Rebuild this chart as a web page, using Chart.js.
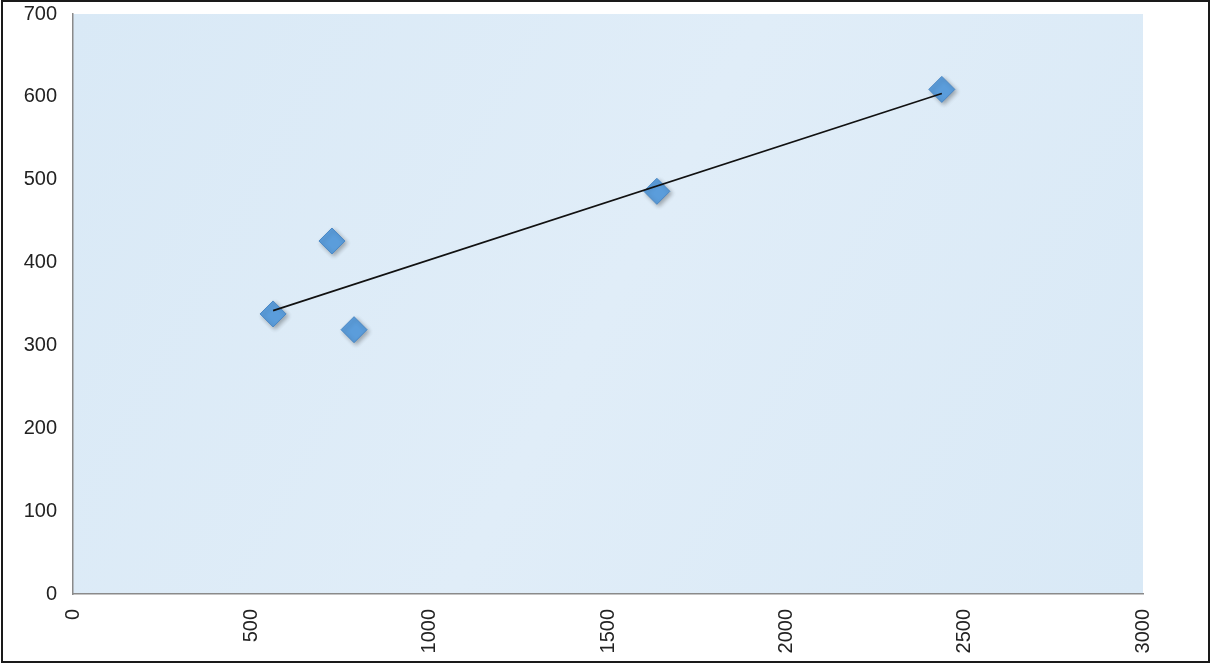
<!DOCTYPE html>
<html>
<head>
<meta charset="utf-8">
<script src="https://cdn.jsdelivr.net/npm/chart.js@4/dist/chart.umd.min.js"></script>
<style>
html,body{margin:0;padding:0;background:#fff;}
#wrap{width:1211px;height:663px;position:relative;}
</style>
</head>
<body>
<div id="wrap"><canvas id="c" width="1211" height="663"></canvas></div>
<script>
// Data
const xValues = [561, 726, 788, 1637, 2436];
const yValues = [338, 426, 319, 486, 609];
// Linear trendline end points
const trendX = [561, 2436];
const trendY = [342, 604];
const xTicks = [0, 500, 1000, 1500, 2000, 2500, 3000];
const yTicks = [0, 100, 200, 300, 400, 500, 600, 700];

const scatterData = xValues.map((x, i) => ({x: x, y: yValues[i]}));
const trendData = trendX.map((x, i) => ({x: x, y: trendY[i]}));

const bgPlugin = {
  id: 'bg',
  beforeDraw(chart) {
    const {ctx, chartArea: a} = chart;
    ctx.save();
    ctx.fillStyle = '#ffffff';
    ctx.fillRect(0, 0, chart.width, chart.height);
    const g = ctx.createLinearGradient(a.left, a.top, a.right, a.bottom);
    g.addColorStop(0, '#d9e9f6');
    g.addColorStop(0.5, '#e0edf8');
    g.addColorStop(1, '#d9e9f6');
    ctx.fillStyle = g;
    ctx.fillRect(a.left, a.top, a.right - a.left, a.bottom - a.top);
    ctx.restore();
  },
  afterDraw(chart) {
    const {ctx} = chart;
    ctx.save();
    ctx.strokeStyle = '#1a1a1a';
    ctx.lineWidth = 2;
    ctx.strokeRect(2, 1, chart.width - 4, chart.height - 2);
    ctx.restore();
  },
  beforeDatasetDraw(chart, args) {
    if (args.index === 0) {
      const ctx = chart.ctx;
      ctx.save();
      ctx.shadowColor = 'rgba(0,0,0,0.3)';
      ctx.shadowBlur = 4;
      ctx.shadowOffsetX = 2;
      ctx.shadowOffsetY = 2;
    }
  },
  afterDatasetDraw(chart, args) {
    if (args.index === 0) chart.ctx.restore();
  }
};

const font = {family: 'Arial, "Liberation Sans", sans-serif', size: 20};

new Chart(document.getElementById('c'), {
  type: 'scatter',
  data: {
    datasets: [
      {
        label: 'Series',
        data: scatterData,
        pointStyle: 'rectRot',
        pointRadius: 13,
        pointHoverRadius: 13,
        backgroundColor: '#5b9ddb',
        borderColor: '#4a88c6',
        borderWidth: 1,
        order: 1
      },
      {
        type: 'line',
        label: 'Trend',
        data: trendData,
        borderColor: '#111111',
        borderWidth: 1.6,
        pointRadius: 0,
        fill: false,
        order: 0
      }
    ]
  },
  options: {
    responsive: false,
    animation: false,
    events: [],
    layout: {padding: {left: 0, top: 12, right: 68, bottom: 0}},
    plugins: {legend: {display: false}, tooltip: {enabled: false}},
    scales: {
      x: {
        type: 'linear',
        min: 0, max: 3000,
        afterBuildTicks(s) { s.ticks = xTicks.map(v => ({value: v})); },
        afterFit(s) { s.height = 69; s.paddingLeft = 0; s.paddingRight = 0; },
        grid: {display: false, drawOnChartArea: false, drawTicks: true, tickLength: 5, color: '#8a8a8a'},
        border: {display: true, color: '#8a8a8a', width: 1.5},
        ticks: {font: font, color: '#222', minRotation: 90, maxRotation: 90, padding: 10,
                callback: v => String(v)}
      },
      y: {
        type: 'linear',
        min: 0, max: 700,
        afterBuildTicks(s) { s.ticks = yTicks.map(v => ({value: v})); },
        afterFit(s) { s.width = 73; s.paddingTop = 0; s.paddingBottom = 0; },
        grid: {display: false, drawOnChartArea: false, drawTicks: true, tickLength: 6, color: '#8a8a8a'},
        border: {display: true, color: '#8a8a8a', width: 1.5},
        ticks: {font: font, color: '#222', padding: 10, callback: v => String(v)}
      }
    }
  },
  plugins: [bgPlugin]
});
</script>
</body>
</html>
